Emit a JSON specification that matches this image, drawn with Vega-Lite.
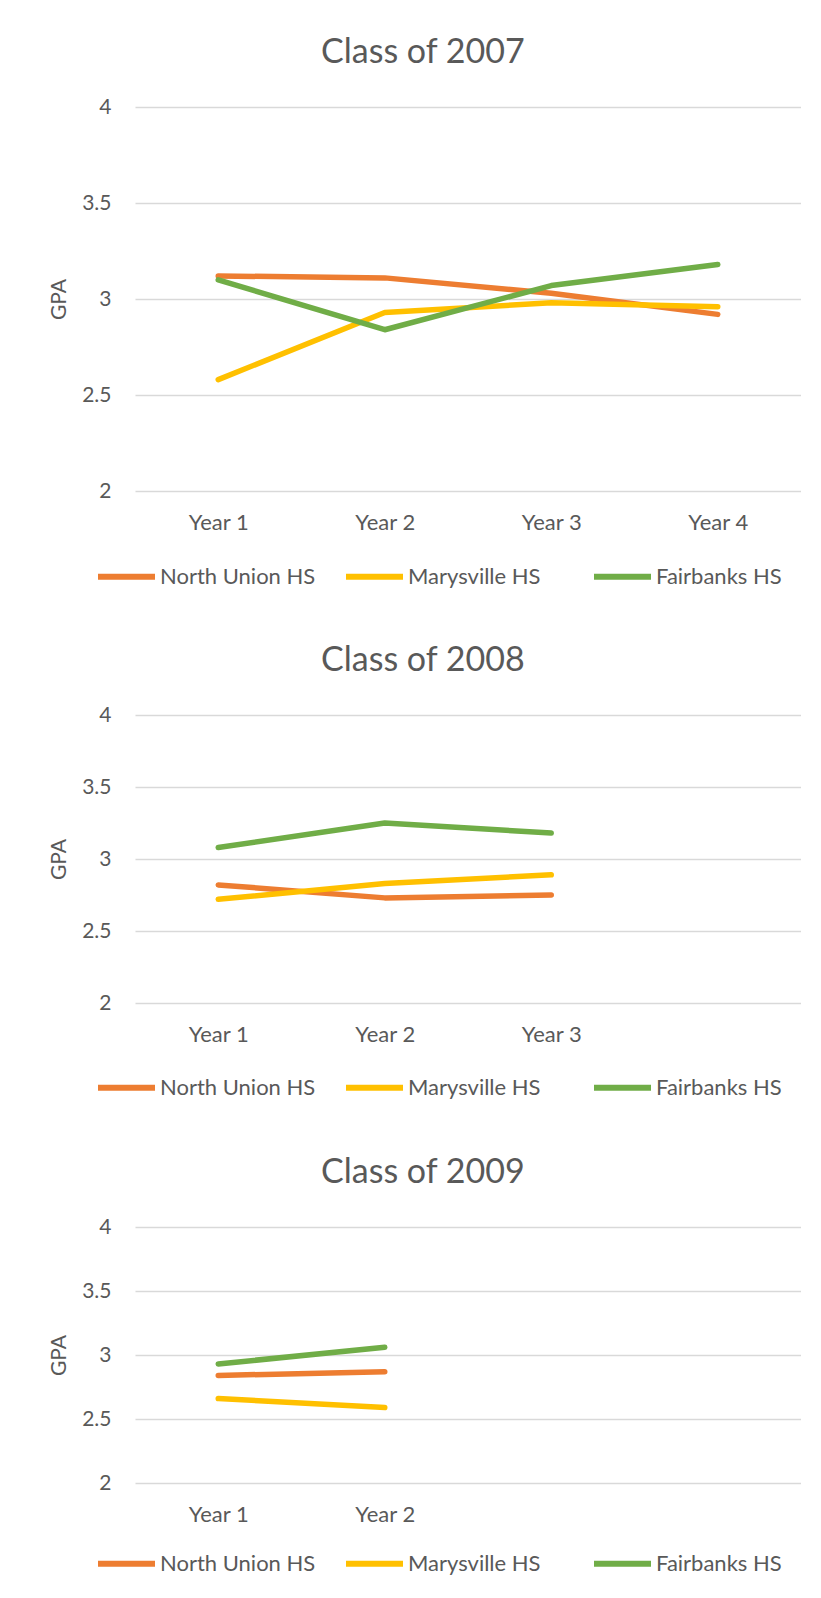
{
  "$schema": "https://vega.github.io/schema/vega-lite/v6.json",
  "description": "GPA by year for three high schools, one panel per graduating class",
  "padding": {"left": 48, "top": 36, "right": 0, "bottom": 0},
  "background": "white",
  "data": {
    "values": [
      {"cls": "Class of 2007", "year": "Year 1", "school": "North Union HS", "gpa": 3.12},
      {"cls": "Class of 2007", "year": "Year 2", "school": "North Union HS", "gpa": 3.11},
      {"cls": "Class of 2007", "year": "Year 3", "school": "North Union HS", "gpa": 3.03},
      {"cls": "Class of 2007", "year": "Year 4", "school": "North Union HS", "gpa": 2.92},
      {"cls": "Class of 2007", "year": "Year 1", "school": "Marysville HS", "gpa": 2.58},
      {"cls": "Class of 2007", "year": "Year 2", "school": "Marysville HS", "gpa": 2.93},
      {"cls": "Class of 2007", "year": "Year 3", "school": "Marysville HS", "gpa": 2.98},
      {"cls": "Class of 2007", "year": "Year 4", "school": "Marysville HS", "gpa": 2.96},
      {"cls": "Class of 2007", "year": "Year 1", "school": "Fairbanks HS", "gpa": 3.10},
      {"cls": "Class of 2007", "year": "Year 2", "school": "Fairbanks HS", "gpa": 2.84},
      {"cls": "Class of 2007", "year": "Year 3", "school": "Fairbanks HS", "gpa": 3.07},
      {"cls": "Class of 2007", "year": "Year 4", "school": "Fairbanks HS", "gpa": 3.18},
      {"cls": "Class of 2008", "year": "Year 1", "school": "North Union HS", "gpa": 2.82},
      {"cls": "Class of 2008", "year": "Year 2", "school": "North Union HS", "gpa": 2.73},
      {"cls": "Class of 2008", "year": "Year 3", "school": "North Union HS", "gpa": 2.75},
      {"cls": "Class of 2008", "year": "Year 1", "school": "Marysville HS", "gpa": 2.72},
      {"cls": "Class of 2008", "year": "Year 2", "school": "Marysville HS", "gpa": 2.83},
      {"cls": "Class of 2008", "year": "Year 3", "school": "Marysville HS", "gpa": 2.89},
      {"cls": "Class of 2008", "year": "Year 1", "school": "Fairbanks HS", "gpa": 3.08},
      {"cls": "Class of 2008", "year": "Year 2", "school": "Fairbanks HS", "gpa": 3.25},
      {"cls": "Class of 2008", "year": "Year 3", "school": "Fairbanks HS", "gpa": 3.18},
      {"cls": "Class of 2009", "year": "Year 1", "school": "North Union HS", "gpa": 2.84},
      {"cls": "Class of 2009", "year": "Year 2", "school": "North Union HS", "gpa": 2.87},
      {"cls": "Class of 2009", "year": "Year 1", "school": "Marysville HS", "gpa": 2.66},
      {"cls": "Class of 2009", "year": "Year 2", "school": "Marysville HS", "gpa": 2.59},
      {"cls": "Class of 2009", "year": "Year 1", "school": "Fairbanks HS", "gpa": 2.93},
      {"cls": "Class of 2009", "year": "Year 2", "school": "Fairbanks HS", "gpa": 3.06}
    ]
  },
  "bounds": "flush",
  "spacing": 224,
  "vconcat": [
    {
      "title": {"text": "Class of 2007"},
      "width": 666,
      "height": 384,
      "transform": [{"filter": "datum.cls === 'Class of 2007'"}],
      "mark": {"type": "line", "strokeWidth": 5.5, "strokeCap": "round", "strokeJoin": "round"},
      "encoding": {
        "x": {"field": "year", "type": "nominal", "title": null, "sort": null,
              "scale": {"domain": ["Year 1", "Year 2", "Year 3", "Year 4"]},
              "axis": {"labelExpr": "datum.value"}},
        "y": {"field": "gpa", "type": "quantitative", "title": "GPA",
              "scale": {"domain": [2, 4], "nice": false, "zero": false},
              "axis": {"values": [2, 2.5, 3, 3.5, 4], "format": "~g"}},
        "color": {"field": "school", "type": "nominal", "title": null,
                  "scale": {"domain": ["North Union HS", "Marysville HS", "Fairbanks HS"], "range": ["#ED7D31", "#FFC000", "#70AD47"]},
                  "legend": {"legendX": -40, "legendY": 438}}
      }
    },
    {
      "title": {"text": "Class of 2008"},
      "width": 666,
      "height": 288,
      "transform": [{"filter": "datum.cls === 'Class of 2008'"}],
      "mark": {"type": "line", "strokeWidth": 5.5, "strokeCap": "round", "strokeJoin": "round"},
      "encoding": {
        "x": {"field": "year", "type": "nominal", "title": null, "sort": null,
              "scale": {"domain": ["Year 1", "Year 2", "Year 3", "Year 4"]},
              "axis": {"labelExpr": "datum.value === 'Year 4' ? '' : datum.value"}},
        "y": {"field": "gpa", "type": "quantitative", "title": "GPA",
              "scale": {"domain": [2, 4], "nice": false, "zero": false},
              "axis": {"values": [2, 2.5, 3, 3.5, 4], "format": "~g"}},
        "color": {"field": "school", "type": "nominal", "title": null,
                  "scale": {"domain": ["North Union HS", "Marysville HS", "Fairbanks HS"], "range": ["#ED7D31", "#FFC000", "#70AD47"]},
                  "legend": {"legendX": -40, "legendY": 341}}
      }
    },
    {
      "title": {"text": "Class of 2009"},
      "width": 666,
      "height": 256,
      "transform": [{"filter": "datum.cls === 'Class of 2009'"}],
      "mark": {"type": "line", "strokeWidth": 5.5, "strokeCap": "round", "strokeJoin": "round"},
      "encoding": {
        "x": {"field": "year", "type": "nominal", "title": null, "sort": null,
              "scale": {"domain": ["Year 1", "Year 2", "Year 3", "Year 4"]},
              "axis": {"labelExpr": "datum.value === 'Year 1' || datum.value === 'Year 2' ? datum.value : ''"}},
        "y": {"field": "gpa", "type": "quantitative", "title": "GPA",
              "scale": {"domain": [2, 4], "nice": false, "zero": false},
              "axis": {"values": [2, 2.5, 3, 3.5, 4], "format": "~g"}},
        "color": {"field": "school", "type": "nominal", "title": null,
                  "scale": {"domain": ["North Union HS", "Marysville HS", "Fairbanks HS"], "range": ["#ED7D31", "#FFC000", "#70AD47"]},
                  "legend": {"legendX": -40, "legendY": 305}}
      }
    }
  ],
  "resolve": {"scale": {"color": "independent", "x": "independent", "y": "independent"}, "legend": {"color": "independent"}},
  "config": {
    "font": "Lato",
    "view": {"stroke": null},
    "title": {"fontSize": 34, "fontWeight": "normal", "color": "#595959", "anchor": "middle", "frame": "bounds", "offset": 26, "dx": -2},
    "axis": {"labelFont": "Lato", "titleFont": "Lato", "labelColor": "#595959", "titleColor": "#595959",
             "ticks": false, "tickSize": 0, "domain": false, "gridColor": "#d9d9d9", "gridWidth": 1.3},
    "axisX": {"grid": false, "labelAngle": 0, "labelFontSize": 22, "labelPadding": 21},
    "axisY": {"labelFontSize": 21, "labelPadding": 24,
              "titleFontSize": 21, "titleFontWeight": "normal", "titlePadding": 12},
    "legend": {"orient": "none", "direction": "horizontal", "columns": 3, "gridAlign": "all",
               "symbolType": "stroke", "symbolSize": 3249, "symbolStrokeWidth": 6,
               "labelFont": "Lato", "labelFontSize": 22, "labelColor": "#595959", "labelOffset": 2,
               "columnPadding": 18, "padding": 0, "labelLimit": 300}
  }
}
